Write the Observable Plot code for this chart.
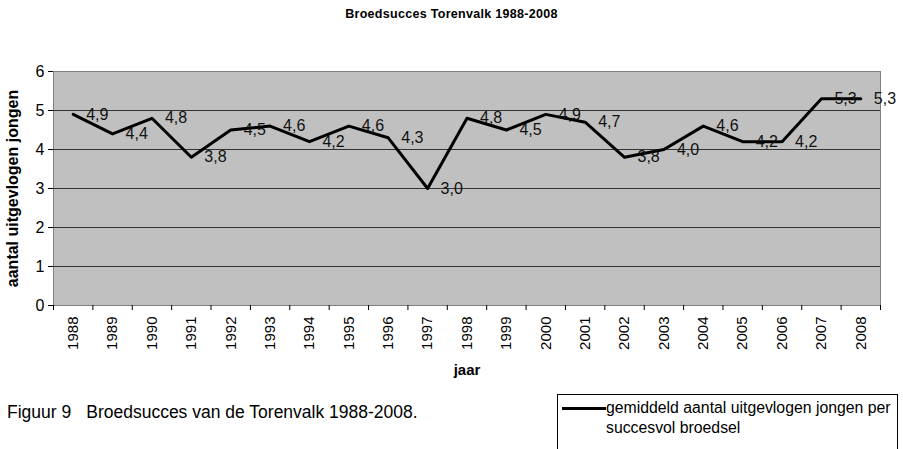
<!DOCTYPE html>
<html>
<head>
<meta charset="utf-8">
<script src="https://cdn.jsdelivr.net/npm/d3@7"></script>
<script src="https://cdn.jsdelivr.net/npm/@observablehq/plot@0.6"></script>
<style>
  html, body { margin: 0; padding: 0; background: #fff; }
  body { width: 903px; height: 449px; overflow: hidden; font-family: "Liberation Sans", Arial, sans-serif; color: #000; }
  #title { height: 30px; line-height: 28px; text-align: center; font-weight: bold; font-size: 12.5px; letter-spacing: 0.3px; }
  #chart svg { display: block; }
  #footer { position: relative; height: 69px; }
  #caption { position: absolute; left: 7px; top: 22px; font-size: 17.5px; line-height: 20px; white-space: nowrap; }
  #caption .gap { display: inline-block; width: 15px; }
  #legend { position: absolute; left: 557px; top: 14px; width: 341px; height: 80px; border: 1px solid #000; box-sizing: border-box; }
  #legend .swatch { position: absolute; left: 4px; top: 12px; width: 44px; height: 3px; background: #000; }
  #legend .txt { position: absolute; left: 48px; top: 3px; font-size: 15.8px; line-height: 20px; white-space: nowrap; }
</style>
</head>
<body>
<div id="title">Broedsucces Torenvalk 1988-2008</div>
<div id="chart"></div>
<div id="footer">
  <div id="caption">Figuur 9<span class="gap"></span>Broedsucces van de Torenvalk 1988-2008.</div>
  <div id="legend"><div class="swatch"></div><div class="txt">gemiddeld aantal uitgevlogen jongen per<br>succesvol broedsel</div></div>
</div>
<script>
const years = [1988, 1989, 1990, 1991, 1992, 1993, 1994, 1995, 1996, 1997, 1998, 1999, 2000, 2001, 2002, 2003, 2004, 2005, 2006, 2007, 2008];
const values = [4.9, 4.4, 4.8, 3.8, 4.5, 4.6, 4.2, 4.6, 4.3, 3.0, 4.8, 4.5, 4.9, 4.7, 3.8, 4.0, 4.6, 4.2, 4.2, 5.3, 5.3];
const yTicks = [0, 1, 2, 3, 4, 5, 6];
const seriesName = "gemiddeld aantal uitgevlogen jongen per succesvol broedsel";

const data = years.map((y, i) => ({year: y, v: values[i]}));
const boundaries = d3.range(years[0] - 0.5, years[years.length - 1] + 1, 1);

const chart = Plot.plot({
  width: 903,
  height: 350,
  marginTop: 41,
  marginBottom: 75,
  marginLeft: 53,
  marginRight: 23,
  style: {fontFamily: "'Liberation Sans', Arial, sans-serif", fontSize: "15px", color: "#000", background: "transparent"},
  x: {domain: [years[0] - 0.5, years[years.length - 1] + 0.5]},
  y: {domain: [0, 6]},
  marks: [
    Plot.frame({fill: "#c0c0c0", stroke: "#808080"}),
    Plot.gridY(yTicks.slice(1, -1), {stroke: "#333", strokeOpacity: 1}),
    Plot.axisY({ticks: yTicks, tickSize: 5, tickPadding: 4, fontSize: 16, tickFormat: d => String(d), label: null, line: true, stroke: "#000"}),
    Plot.axisY({ticks: [], label: "aantal uitgevlogen jongen", labelAnchor: "center", labelOffset: 47, labelArrow: "none", fontWeight: "bold", fontSize: 16}),
    Plot.axisX({ticks: years, tickSize: 0, tickRotate: -90, tickPadding: 11, fontSize: 15, tickFormat: d => String(d), label: null}),
    Plot.axisX({ticks: boundaries, tickSize: 5, tickFormat: () => "", label: null, line: true, stroke: "#000"}),
    Plot.axisX({ticks: [], label: "jaar", labelAnchor: "center", labelOffset: 69, labelArrow: "none", fontWeight: "bold", fontSize: 15}),
    Plot.line(data, {x: "year", y: "v", stroke: "#000", strokeWidth: 3, title: () => seriesName}),
    Plot.text(data, {x: "year", y: "v", text: d => d.v.toFixed(1).replace(".", ","), textAnchor: "start", dx: 13, fontSize: 16, fill: "#111"})
  ]
});
document.getElementById("chart").appendChild(chart);
</script>
</body>
</html>
